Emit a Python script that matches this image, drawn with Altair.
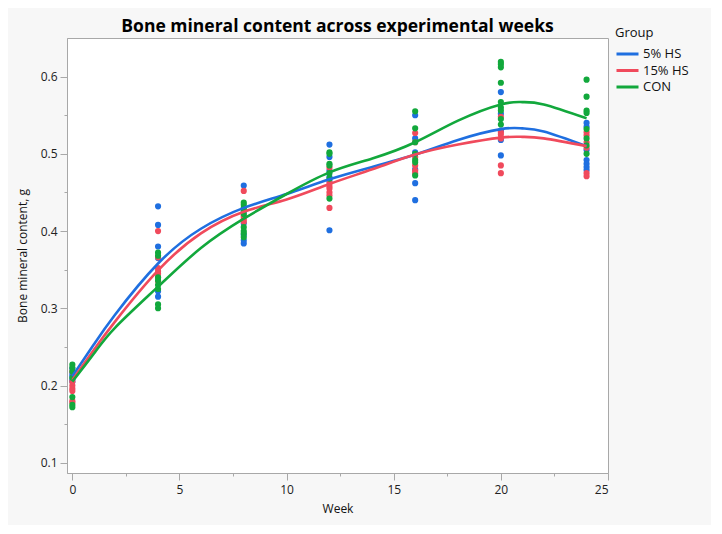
import altair as alt
import pandas as pd

groups = ["5% HS", "15% HS", "CON"]
colors = ["#1F6FE0", "#F04A5C", "#12A83C"]
weeks = [0, 4, 8, 12, 16, 20, 24]

# observed values per week (one list per week)
hs5_values = [
    [0.222, 0.215, 0.212, 0.208, 0.205],
    [0.432, 0.408, 0.380, 0.365, 0.322, 0.315],
    [0.459, 0.425, 0.410, 0.395, 0.388, 0.384],
    [0.512, 0.496, 0.478, 0.470, 0.465, 0.401],
    [0.550, 0.520, 0.502, 0.480, 0.462, 0.440],
    [0.580, 0.552, 0.530, 0.518, 0.498],
    [0.540, 0.535, 0.505, 0.492, 0.487, 0.483, 0.479],
]
hs15_values = [
    [0.218, 0.205, 0.200, 0.196, 0.193, 0.180, 0.178],
    [0.400, 0.366, 0.352, 0.348, 0.345, 0.340, 0.335],
    [0.452, 0.420, 0.418, 0.415, 0.412],
    [0.482, 0.462, 0.458, 0.455, 0.450, 0.446, 0.430],
    [0.527, 0.515, 0.496, 0.485, 0.478, 0.475],
    [0.548, 0.528, 0.525, 0.520, 0.485, 0.475],
    [0.528, 0.524, 0.515, 0.508, 0.475, 0.471],
]
con_values = [
    [0.227, 0.223, 0.218, 0.210, 0.185, 0.175, 0.172],
    [0.372, 0.368, 0.340, 0.336, 0.330, 0.325, 0.305, 0.300],
    [0.437, 0.434, 0.430, 0.428, 0.422, 0.405, 0.400, 0.397, 0.392],
    [0.502, 0.500, 0.487, 0.485, 0.475, 0.468, 0.442],
    [0.555, 0.533, 0.515, 0.500, 0.492, 0.489, 0.472],
    [0.619, 0.616, 0.612, 0.592, 0.567, 0.560, 0.556, 0.545, 0.538],
    [0.596, 0.574, 0.556, 0.553, 0.532, 0.520, 0.511, 0.500],
]

# fitted smooth curves
curve_weeks = [0, 1, 2, 4, 6, 8, 10, 12, 14, 16, 18, 20, 21, 22, 24]
curve_hs5 = [0.212, 0.253, 0.292, 0.358, 0.403, 0.430, 0.448, 0.467, 0.483, 0.499, 0.518, 0.532, 0.533, 0.529, 0.510]
curve_hs15 = [0.207, 0.246, 0.283, 0.349, 0.397, 0.425, 0.441, 0.461, 0.480, 0.499, 0.512, 0.521, 0.522, 0.520, 0.510]
curve_con = [0.205, 0.241, 0.275, 0.328, 0.378, 0.416, 0.448, 0.476, 0.494, 0.515, 0.543, 0.564, 0.567, 0.564, 0.546]

x_major = [0, 5, 10, 15, 20, 25]
x_minor = [2.5, 7.5, 12.5, 17.5, 22.5]
y_major = [0.1, 0.2, 0.3, 0.4, 0.5, 0.6]
y_minor = [0.15, 0.25, 0.35, 0.45, 0.55]

rows = []
for g, vals in zip(groups, [hs5_values, hs15_values, con_values]):
    for w, vs in zip(weeks, vals):
        for v in vs:
            rows.append({"Week": w, "BMC": v, "Group": g})
pts = pd.DataFrame(rows)

crows = []
for g, cv in zip(groups, [curve_hs5, curve_hs15, curve_con]):
    for w, v in zip(curve_weeks, cv):
        crows.append({"Week": w, "BMC": v, "Group": g})
crv = pd.DataFrame(crows)

font = "Open Sans"
xscale = alt.Scale(domain=[-0.25, 25], nice=False, zero=False)
yscale = alt.Scale(domain=[0.0867, 0.65], nice=False, zero=False)
cscale = alt.Scale(domain=groups, range=colors)
legend = alt.Legend(title="Group", orient="none", legendX=548, legendY=-11,
                    symbolType="stroke", symbolSize=484, symbolStrokeWidth=3,
                    clipHeight=14, rowPadding=2.5, labelOffset=3, titlePadding=7)

points = alt.Chart(pts).mark_circle(size=38, opacity=1).encode(
    x=alt.X("Week:Q", scale=xscale,
            axis=alt.Axis(values=x_major, tickSize=7, labelPadding=4, title="Week",
                          titlePadding=8, grid=False, format="d", orient="bottom")),
    y=alt.Y("BMC:Q", scale=yscale,
            axis=alt.Axis(values=y_major, tickSize=7, labelPadding=3, format=".1f",
                          title="Bone mineral content, g", titlePadding=11, grid=False,
                          orient="left")),
    color=alt.Color("Group:N", scale=cscale, sort=groups, legend=legend),
)

lines = alt.Chart(crv).mark_line(strokeWidth=2.6, interpolate="natural").encode(
    x=alt.X("Week:Q", scale=xscale, axis=None),
    y=alt.Y("BMC:Q", scale=yscale, axis=None),
    color=alt.Color("Group:N", scale=cscale, sort=groups, legend=legend),
    detail="Group:N",
)

minor = alt.Chart(crv).mark_line(opacity=0).encode(
    x=alt.X("Week:Q", scale=xscale,
            axis=alt.Axis(values=x_minor, tickSize=3, labels=False, domain=False,
                          title=None, grid=False, orient="bottom")),
    y=alt.Y("BMC:Q", scale=yscale,
            axis=alt.Axis(values=y_minor, tickSize=3, labels=False, domain=False,
                          title=None, grid=False, orient="left")),
)

chart = alt.layer(points, lines, minor).resolve_axis(x="independent", y="independent").properties(
    width=541, height=435,
    title=alt.Title("Bone mineral content across experimental weeks", font=font, fontSize=17.5,
                    fontWeight="bold", color="#000", anchor="middle", offset=6, dy=14),
    autosize=alt.AutoSizeParams(type="none"),
    padding={"left": 59, "top": 30, "right": 103, "bottom": 52},
).configure(background="#f7f7f7").configure_view(
    fill="white", stroke="#a8a8a8", strokeWidth=1
).configure_axis(
    labelFont=font, titleFont=font, labelFontSize=12, titleFontSize=12,
    labelColor="#222", titleColor="#111", titleFontWeight="normal",
    domainColor="#a8a8a8", tickColor="#a8a8a8"
).configure_legend(
    labelFont=font, titleFont=font, labelFontSize=13, titleFontSize=13,
    titleFontWeight="normal", labelColor="#111", titleColor="#111"
)

chart.save("out.html", embed_options={"renderer": "svg", "actions": False})
